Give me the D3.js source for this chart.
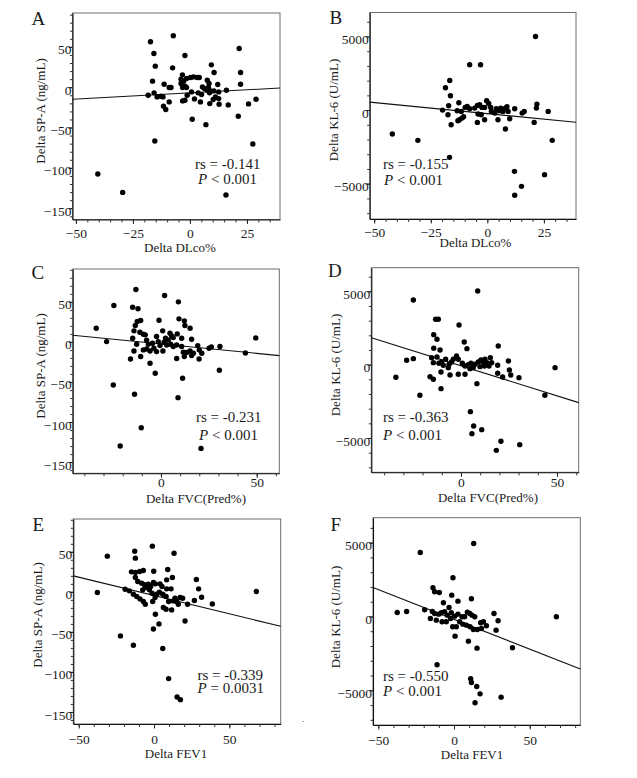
<!DOCTYPE html>
<html><head><meta charset="utf-8">
<script src="https://cdn.jsdelivr.net/npm/d3@7"></script>
<style>
body{margin:0;background:#fff}
svg{display:block}
text{font-family:"Liberation Serif","Times New Roman",serif;fill:#1a1a1a}
</style>
</head><body>
<svg id="chart" width="637" height="778"></svg>
<script>
// ---------- Panel A: Delta DLco% vs Delta SP-A ----------
const aX=[-7.3,-17.3,21.6,-15.8,-2.2,-15.2,9.4,-7.6,10.6,22.2,-3.3,-16.4,-11.3,-9.1,-8.3,-3.9,-2.8,-1.5,0.3,1.6,3.2,4.1,-3.9,-2.2,-1.5,-3.2,7.6,8.4,5.5,6.4,8.1,9.0,12.2,22.2,16.0,12.6,0.7,3.6,5.1,7.6,8.6,10.5,10.2,12.6,11.2,-1.2,2.0,-2.2,-3.2,4.6,8.7,12.8,16.8,25.7,29.0,-18.3,-15.7,-14.4,-11.8,-12.8,-9.1,-11.6,-10.6,1.0,7.0,21.2,-15.4,27.6,-40.4,-29.5,15.8];
const aY=[63.8,56.3,48.0,41.8,39.3,26.1,27.7,24.0,18.2,18.2,15.3,7.5,3.7,-0.4,-0.4,9.9,7.5,10.8,12.0,12.8,12.0,12.0,4.6,1.2,-0.4,-0.4,8.7,4.6,0.4,-1.7,-0.4,-4.6,3.3,3.7,-3.7,-5.8,-5.8,-7.0,-9.1,-3.7,-7.0,-4.6,-15.3,-14.1,-12.0,-9.9,-14.5,-16.1,-17.0,-18.2,-20.3,-21.1,-21.9,-20.7,-14.9,-9.9,-7.0,-12.0,-12.0,-11.2,-18.2,-23.6,-27.7,-39.7,-46.4,-36.0,-66.7,-70.4,-107.6,-130.4,-133.7];
const aFitX=[-51.5,39.5], aFitY=[-15,-1];

// ---------- Panel B: Delta DLco% vs Delta KL-6 ----------
const bX=[21.3,-7.8,-3.0,-16.6,-18.5,-16.3,-12.6,-17.1,-19.8,-17.4,-16.0,-13.0,-12.3,-11.2,-10.5,-13.3,-11.5,-9.8,-8.9,-7.8,-5.6,-4.4,-3.4,-2.4,-1.2,-0.3,0.6,1.5,1.8,3.3,4.0,5.3,5.9,6.9,8.0,8.7,9.2,9.9,4.7,-1.2,-4.4,-2.7,-4.1,12.1,15.4,16.3,21.7,21.9,26.9,20.7,8.0,-42.0,-30.7,-16.7,28.7,12.0,25.3,15.1,12.1];
const bY=[4999,3076,3076,2013,1516,973,498,294,0,-317,-995,-724,-656,-543,-452,-45,-90,181,249,90,136,317,362,181,181,633,452,181,-90,-204,90,-45,136,-90,136,226,-90,-588,-656,-656,-837,-317,-271,90,-204,-90,136,407,-90,-837,-1289,-1629,-2058,-3212,-2058,-4162,-4388,-5180,-5791];
const bFitX=[-52,39.2], bFitY=[540,-830];

// ---------- Panel C: Delta FVC(Pred%) vs Delta SP-A ----------
const cX=[-13.1,1.9,9.1,-24.6,-14.8,-12.0,-33.8,-1.0,9.4,12.2,12.5,15.2,-10.6,-12.4,-13.4,-14.1,-11.0,-9.2,-8.2,-14.8,-7.5,-6.6,-12.7,0.9,4.7,5.6,6.4,8.5,10.8,16.0,-2.3,-1.4,-0.5,1.6,2.4,3.8,5.1,3.0,-4.4,-3.7,-2.3,-7.5,-5.7,-9.2,-10.6,-14.1,6.4,8.2,10.8,11.7,13.4,15.2,16.9,16.0,19.2,20.0,21.3,25.1,26.3,30.8,49.5,44.1,-15.9,8.2,12.2,19.9,1.0,-5.7,-3.0,11.3,30.5,-24.9,-13.8,8.9,-10.3,-21.3,20.9,-28.4];
const cY=[65.4,57.9,50.0,45.4,43.3,41.3,17.1,27.1,28.8,26.3,20.4,17.1,26.7,25.4,20.4,13.8,12.1,9.6,8.8,4.6,2.1,-2.9,-2.9,13.8,10.8,7.5,5.4,10.0,4.6,3.3,6.7,0.4,-4.6,-0.4,4.6,2.5,-2.9,-3.8,-1.7,-7.9,-12.1,-8.8,-11.3,-10.0,-18.3,-11.3,-5.8,-3.8,-5.8,-12.9,-13.3,-11.3,-14.2,-17.1,-4.6,-10.0,-14.2,-7.9,-6.3,-5.8,5.0,-13.8,-21.3,-20.8,-18.3,-21.3,-11.3,-26.7,-39.2,-45.4,-35.4,-53.8,-65.4,-69.6,-107.1,-130.0,-132.9,0.4];
const cFitX=[-46.1,61.8], cFitY=[8.4,-17.1];

// ---------- Panel D: Delta FVC(Pred%) vs Delta KL-6 ----------
const dX=[8.7,-24.8,-13.2,-11.8,-1.0,-14.2,-12.5,1.7,-14.2,-10.9,3.1,19.4,-28.3,-24.8,-15.3,-12.5,-8.0,-14.4,-10.1,-9.2,-6.2,-4.9,-4.0,-2.3,-1.4,0.7,2.1,3.8,5.2,7.3,9.0,10.4,11.5,12.5,13.5,14.6,15.3,16.0,12.2,9.9,4.7,6.4,24.7,19.1,25.2,25.9,21.7,30.2,19.1,2.1,-1.4,-5.7,-10.4,-16.1,-14.4,-33.9,-10.4,-21.4,8.3,43.7,49.0,4.9,6.6,10.8,5.7,20.8,18.4,30.6,-11.5,-6.6];
const dY=[5023,4410,3091,3091,2705,2046,1727,1546,1114,1000,1091,1273,295,409,477,523,364,136,182,-45,23,182,364,591,364,91,-91,0,91,23,182,318,182,364,136,-91,477,136,-91,-136,-273,-205,250,-45,-364,-705,-841,-886,-591,-659,-659,-705,-500,-818,-1000,-864,-1637,-2091,-1296,-2091,-205,-3205,-4182,-4432,-4705,-5228,-5842,-5455,91,-205];
const dFitX=[-46.7,61.3], dFitY=[1840,-2590];

// ---------- Panel E: Delta FEV1 vs Delta SP-A ----------
const eX=[-1.1,-12.8,13.3,-31.0,-12.4,-15.0,-12.4,-9.5,-7.1,-0.2,9.1,12.2,8.4,-12.4,-10.8,-8.2,-6.2,-4.9,-3.8,-2.2,-0.4,0.9,4.0,5.3,8.4,11.3,-7.5,-5.8,-3.1,-1.3,1.8,3.5,5.8,0.7,-0.9,-19.2,-16.4,-13.7,-11.5,-9.3,-7.1,-5.8,-37.6,8.0,9.7,12.8,13.9,15.0,16.1,17.3,19.0,6.2,8.0,11.7,0.9,3.3,-0.4,20.6,28.1,29.6,31.6,26.8,22.3,38.7,67.9,-22.3,-13.7,5.8,9.7,15.3,17.5];
const eY=[57.1,50.8,48.3,44.6,42.1,25.0,24.2,25.4,26.7,25.8,27.9,17.9,15.0,17.9,12.9,10.8,8.8,6.7,9.6,6.7,11.7,10.0,10.0,6.7,3.8,3.8,2.5,5.4,2.5,-1.7,-2.9,-0.4,-2.9,-7.1,-12.1,3.3,1.3,-2.9,-5.8,-8.8,-12.1,-15.4,-0.8,-5.8,-12.1,-11.3,-7.9,-12.1,-15.4,-7.1,-7.9,-19.6,-21.7,-22.5,-27.9,-40.0,-46.3,-36.3,15.4,3.8,-6.7,-10.8,-15.4,-15.0,0.4,-55.0,-66.7,-70.8,-108.3,-131.3,-134.6];
const eFitX=[-53.6,84.1], eFitY=[20,-43];

// ---------- Panel F: Delta FEV1 vs Delta KL-6 ----------
const fX=[13.0,-22.3,-0.7,-13.9,-12.8,-9.7,-1.5,11.5,2.6,-7.0,-3.3,-37.5,-31.3,-19.4,-14.3,-12.8,-10.1,-8.4,-6.2,-4.4,-1.8,0.4,2.6,5.3,7.0,8.8,10.4,11.9,13.7,-15.6,-11.7,-7.9,-5.1,-2.2,-0.9,1.5,3.7,5.9,8.2,10.6,12.8,15.4,17.6,19.4,21.4,18.1,26.4,29.1,27.8,0.7,9.5,15.2,38.6,67.6,-11.2,11.0,11.5,15.0,17.2,31.1,13.9];
const fY=[4945,4335,2619,1942,1671,1626,1445,1197,1039,926,610,271,339,452,339,203,158,248,316,90,248,23,158,-23,-23,294,203,90,-23,-135,-248,-361,-361,-135,-700,-700,-361,-519,-587,-700,-881,-881,-429,-361,-632,-813,203,-294,-926,-1332,-1671,-2145,-2123,-23,-3274,-4222,-4471,-4742,-5239,-5464,-5848];
const fFitX=[-53.5,83.4], fFitY=[1965,-3560];

// ---------- Tick labels ----------
const spaTicks=[50,0,-50,-100,-150];
const kl6Ticks=[5000,0,-5000];
const dlcoTicks=[-50,-25,0,25];
const fvcTicks=[0,50];
const fev1Ticks=[-50,0,50];

const panels=[
 {id:"A",xs:aX,ys:aY,fx:aFitX,fy:aFitY,box:[72.5,13,280,219.5],xd:[-51.5,39.5],yd:[-164,92],xt:dlcoTicks,xm:5,yt:spaTicks,ym:10,xoff:18.8,
  xlab:"Delta DLco%",ylab:"Delta SP-A (ng/mL)",rs:"rs = -0.141",p:"< 0.001",ann:[195,168.5,198,184],xlabX:180,xlabY:251.5,ylabX:45,ylabY:111,let:[31.5,25]},
 {id:"B",xs:bX,ys:bY,fx:bFitX,fy:bFitY,box:[369.7,12.5,576,219],xd:[-52,39.2],yd:[-7400,6630],xt:dlcoTicks,xm:5,yt:kl6Ticks,ym:1000,xoff:18.3,
  xlab:"Delta DLco%",ylab:"Delta KL-6 (U/mL)",rs:"rs = -0.155",p:"< 0.001",ann:[383,168.5,384,185],xlabX:475.5,xlabY:246.5,ylabX:338,ylabY:110,let:[329.5,24]},
 {id:"C",xs:cX,ys:cY,fx:cFitX,fy:cFitY,box:[72.7,269,279.3,473.3],xd:[-46.1,61.8],yd:[-164,91],xt:fvcTicks,xm:10,yt:spaTicks,ym:10,xoff:13.6,
  xlab:"Delta FVC(Pred%)",ylab:"Delta SP-A (ng/mL)",rs:"rs = -0.231",p:"< 0.001",ann:[196,421.5,199,440],xlabX:196,xlabY:502.5,ylabX:45,ylabY:366,let:[31.5,279]},
 {id:"D",xs:dX,ys:dY,fx:dFitX,fy:dFitY,box:[371.3,267.7,578.7,472.3],xd:[-46.7,61.3],yd:[-7340,6610],xt:fvcTicks,xm:10,yt:kl6Ticks,ym:1000,xoff:14.4,
  xlab:"Delta FVC(Pred%)",ylab:"Delta KL-6 (U/mL)",rs:"rs = -0.363",p:"< 0.001",ann:[383,421.5,383,440],xlabX:488,xlabY:502,ylabX:340,ylabY:365,let:[328,277]},
 {id:"E",xs:eX,ys:eY,fx:eFitX,fy:eFitY,box:[73.3,519,280.7,724],xd:[-53.6,84.1],yd:[-165,91],xt:fev1Ticks,xm:10,yt:spaTicks,ym:10,xoff:20,
  xlab:"Delta FEV1",ylab:"Delta SP-A (ng/mL)",rs:"rs = -0.339",p:"= 0.0031",ann:[197.5,680,197.5,693],xlabX:176,xlabY:757.5,ylabX:42,ylabY:615,let:[32.5,531]},
 {id:"F",xs:fX,ys:fY,fx:fFitX,fy:fFitY,box:[373,517.7,580.3,725],xd:[-53.5,83.4],yd:[-7350,6690],xt:fev1Ticks,xm:10,yt:kl6Ticks,ym:1000,xoff:20,
  xlab:"Delta FEV1",ylab:"Delta KL-6 (U/mL)",rs:"rs = -0.550",p:"< 0.001",ann:[383,681,383,696],xlabX:472,xlabY:759,ylabX:340,ylabY:617,let:[330.5,531]}
];

const svg=d3.select("#chart");

function rangeTicks(dom,step){
  const out=[];
  const s=Math.ceil(dom[0]/step)*step;
  for(let v=s; v<=dom[1]+1e-9; v+=step) out.push(+v.toFixed(6));
  return out;
}

panels.forEach(P=>{
  const [L,T,R,B]=P.box;
  const x=d3.scaleLinear().domain(P.xd).range([L,R]);
  const y=d3.scaleLinear().domain(P.yd).range([B,T]);
  const g=svg.append("g");

  // frame
  g.append("rect").attr("x",L).attr("y",T).attr("width",R-L).attr("height",B-T)
    .attr("fill","none").attr("stroke","#6e6e6e").attr("stroke-width",1);

  // minor ticks
  const yMinor=d3.axisLeft(y).tickValues(rangeTicks(P.yd,P.ym)).tickSize(2.5).tickFormat("").tickSizeOuter(0);
  const xMinor=d3.axisBottom(x).tickValues(rangeTicks(P.xd,P.xm)).tickSize(3).tickFormat("").tickSizeOuter(0);
  const ga=g.append("g").attr("transform",`translate(${L},0)`).call(yMinor);
  const gb=g.append("g").attr("transform",`translate(0,${B})`).call(xMinor);
  [ga,gb].forEach(s=>{s.select(".domain").attr("stroke","#111").attr("stroke-width",1.1);s.selectAll(".tick line").attr("stroke","#333");});

  // major ticks + labels
  const yMaj=d3.axisLeft(y).tickValues(P.yt).tickSize(4).tickPadding(-3).tickFormat(d3.format("d")).tickSizeOuter(0);
  const xMaj=d3.axisBottom(x).tickValues(P.xt).tickSize(4.5).tickFormat(d3.format("d")).tickSizeOuter(0);
  const gy=g.append("g").attr("transform",`translate(${L},0)`).call(yMaj);
  const gx=g.append("g").attr("transform",`translate(0,${B})`).call(xMaj);
  [gy,gx].forEach(s=>{s.select(".domain").remove();s.selectAll(".tick line").attr("stroke","#222");
    s.selectAll("text").attr("font-family",'"Liberation Serif",serif').attr("font-size",13.5).attr("fill","#222");});
  gy.selectAll("text").attr("dy","0.52em").attr("x",-1);
  gx.selectAll("text").attr("dy",0).attr("y",P.xoff);

  // regression line
  const lineData=P.fx.map((v,i)=>[v,P.fy[i]]);
  g.append("path").datum(lineData)
    .attr("d",d3.line().x(d=>x(d[0])).y(d=>y(d[1])))
    .attr("stroke","#111").attr("stroke-width",1.1).attr("fill","none");

  // points
  g.append("g").selectAll("circle").data(P.xs.map((v,i)=>[v,P.ys[i]])).join("circle")
    .attr("cx",d=>x(d[0])).attr("cy",d=>y(d[1])).attr("r",2.7).attr("fill","#000");

  // labels
  g.append("text").attr("x",P.let[0]).attr("y",P.let[1]).attr("font-size",19).attr("fill","#111").text(P.id);
  g.append("text").attr("x",P.xlabX).attr("y",P.xlabY).attr("text-anchor","middle").attr("font-size",13).attr("fill","#333").text(P.xlab);
  g.append("text").attr("transform",`translate(${P.ylabX},${P.ylabY}) rotate(-90)`).attr("text-anchor","middle")
    .attr("font-size",13).attr("fill","#333").text(P.ylab);
  g.append("text").attr("x",P.ann[0]).attr("y",P.ann[1]).attr("font-size",15).attr("fill","#222").text(P.rs);
  const pt=g.append("text").attr("x",P.ann[2]).attr("y",P.ann[3]).attr("font-size",15).attr("fill","#222");
  pt.append("tspan").attr("font-style","italic").text("P");
  pt.append("tspan").text(" "+P.p);
});

svg.append("text").attr("x",302).attr("y",722).attr("font-size",9).attr("fill","#999").text(".");
</script>
</body></html>
